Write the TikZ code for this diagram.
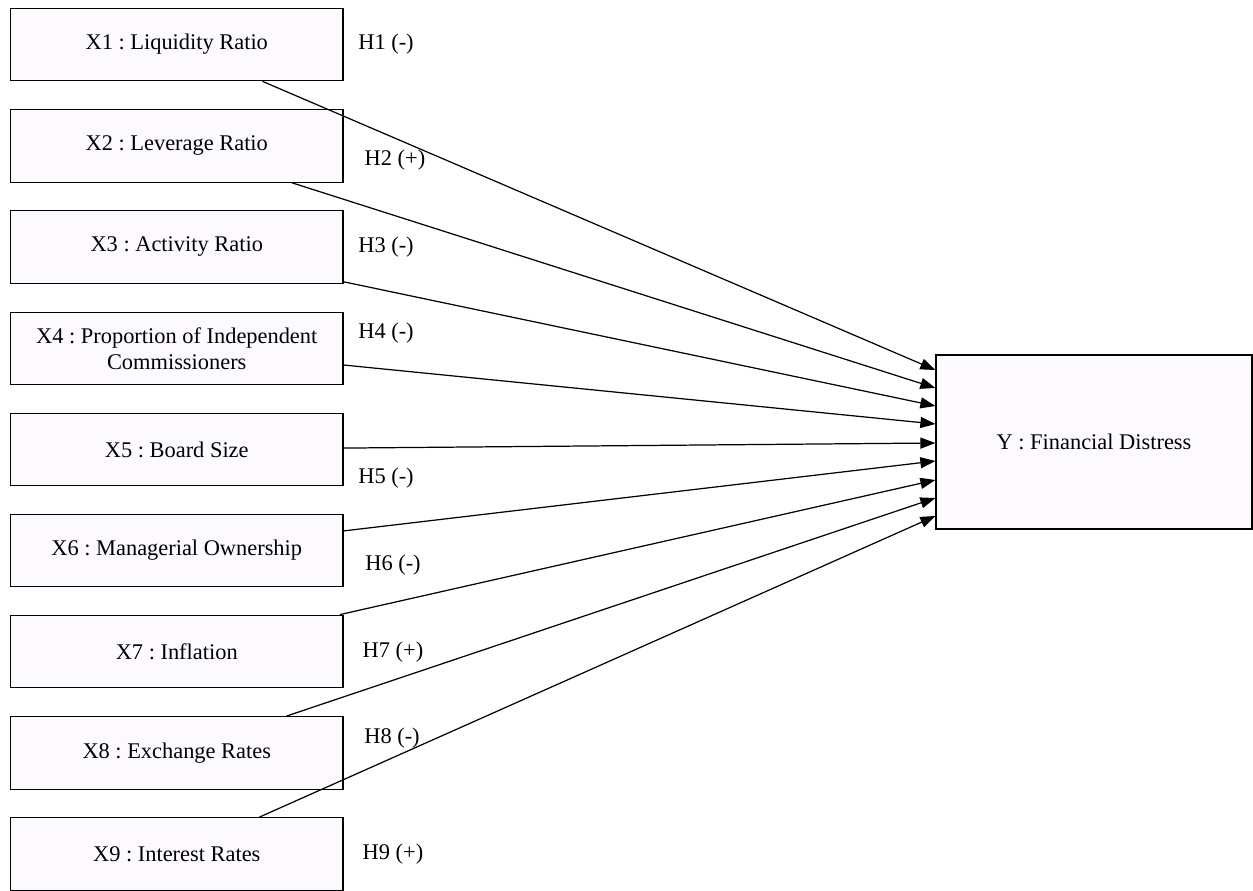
\documentclass[tikz,border=0pt]{standalone}
\usepackage{fontspec}
\setmainfont{Liberation Serif}
\frenchspacing
\usetikzlibrary{calc, arrows.meta}

\definecolor{boxfill}{RGB}{252,250,255}
\tikzset{
    varbox/.style={draw, line width=0.75pt, fill=boxfill, minimum width=6.65cm, minimum height=1.45cm, inner sep=0pt, align=center, font=\fontsize{12.75}{14.5}\selectfont},
    hyplabel/.style={inner sep=0pt, font=\fontsize{12.75}{14.5}\selectfont},
    link/.style={line width=0.7pt, -{Triangle[length=0.3cm, width=0.22cm]}}
}

\begin{document}
\begin{tikzpicture}[x=0.02cm, y=-0.02cm]
            \useasboundingbox (0,0) rectangle (1253,891);

            \node[varbox] (x1) at (176.75,44.5) {X1 : Liquidity Ratio};
            \node[varbox] (x2) at (176.75,146) {X2 : Leverage Ratio};
            \node[varbox] (x3) at (176.75,247) {X3 : Activity Ratio};
            \node[varbox] (x4) at (176.75,348.5) {X4 : Proportion of Independent\\Commissioners};
            \node[varbox] (x5) at (176.75,449.5) {X5 : Board Size};
            \node[varbox] (x6) at (176.75,550.5) {X6 : Managerial Ownership};
            \node[varbox] (x7) at (176.75,651.5) {X7 : Inflation};
            \node[varbox] (x8) at (176.75,753) {X8 : Exchange Rates};
            \node[varbox] (x9) at (176.75,854) {X9 : Interest Rates};

            \node[varbox, minimum width=6.32cm, minimum height=3.48cm] (y) at (1094,442) {Y : Financial Distress};

            % points on the left side of Y
            \coordinate (in1) at ($(y.west)+(0,-72)$);
            \coordinate (in2) at ($(y.west)+(0,-54)$);
            \coordinate (in3) at ($(y.west)+(0,-36)$);
            \coordinate (in4) at ($(y.west)+(0,-18)$);
            \coordinate (in5) at ($(y.west)+(0,1)$);
            \coordinate (in6) at ($(y.west)+(0,19)$);
            \coordinate (in7) at ($(y.west)+(0,38)$);
            \coordinate (in8) at ($(y.west)+(0,56)$);
            \coordinate (in9) at ($(y.west)+(0,74)$);

            \draw[link] (x1) -- (in1);
            \draw[link] (x2) -- (in2);
            \draw[link] (x3) -- (in3);
            \draw[link] (x4) -- (in4);
            \draw[link] (x5) -- (in5);
            \draw[link] (x6) -- (in6);
            \draw[link] (x7) -- (in7);
            \draw[link] (x8) -- (in8);
            \draw[link] (x9) -- (in9);

            \node[hyplabel] (h1) at (386,44) {H1 (-)};
            \node[hyplabel] (h2) at (395,160) {H2 (+)};
            \node[hyplabel] (h3) at (386,247) {H3 (-)};
            \node[hyplabel] (h4) at (386,333) {H4 (-)};
            \node[hyplabel] (h5) at (386,478) {H5 (-)};
            \node[hyplabel] (h6) at (393,565) {H6 (-)};
            \node[hyplabel] (h7) at (393,652) {H7 (+)};
            \node[hyplabel] (h8) at (392,738) {H8 (-)};
            \node[hyplabel] (h9) at (393,854) {H9 (+)};
        \end{tikzpicture}
\end{document}
